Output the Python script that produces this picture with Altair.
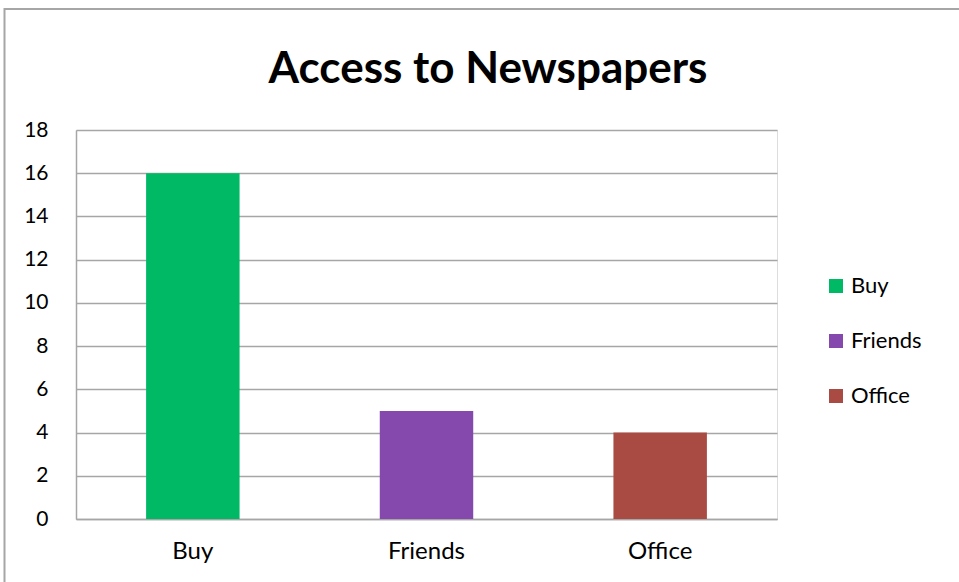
import altair as alt
import pandas as pd

title_text = "Access to Newspapers"
categories = ["Buy", "Friends", "Office"]
values = [16, 5, 4]
colors = ["#00B964", "#8549AD", "#A94B43"]
y_ticks = [0, 2, 4, 6, 8, 10, 12, 14, 16, 18]

df = pd.DataFrame({"source": categories, "count": values})

FONT = "Lato"
GRAY = "#A6A6A6"

bars = alt.Chart(df).mark_bar().encode(
    x=alt.X("source:N", sort=categories,
            scale=alt.Scale(paddingInner=0.6, paddingOuter=0.3),
            axis=alt.Axis(title=None, labelAngle=0, labelFontSize=24, labelFont=FONT,
                          labelColor="#000000", labelPadding=20, ticks=False,
                          domainColor=GRAY, domainWidth=1.5, grid=False)),
    y=alt.Y("count:Q", scale=alt.Scale(domain=[0, 18], nice=False),
            axis=alt.Axis(title=None, values=y_ticks, labelFontSize=21, labelFont=FONT,
                          labelColor="#000000", labelPadding=28, ticks=False,
                          domainColor=GRAY, domainWidth=1.5,
                          gridColor=GRAY, gridWidth=1.5)),
    color=alt.Color("source:N", sort=categories,
                    scale=alt.Scale(domain=categories, range=colors),
                    legend=alt.Legend(title=None, orient="none", legendX=749, legendY=145,
                                      symbolType="square", symbolSize=196,
                                      symbolStrokeWidth=0, labelFontSize=22, labelFont=FONT,
                                      labelColor="#000000", rowPadding=33, labelOffset=4)),
)

single = pd.DataFrame({"t": [title_text]})
title = alt.Chart(single).mark_text(
    font=FONT, fontSize=44, fontWeight="bold", color="#000000",
    align="center", baseline="alphabetic", clip=False,
).encode(text="t:N", x=alt.value(412), y=alt.value(-47))

top_border = alt.Chart(single).mark_rule(color=GRAY, strokeWidth=2, clip=False).encode(
    x=alt.value(-72), x2=alt.value(900), y=alt.value(-121))
left_border = alt.Chart(single).mark_rule(color=GRAY, strokeWidth=2, clip=False).encode(
    x=alt.value(-71.5), y=alt.value(-122), y2=alt.value(460))

chart = alt.layer(bars, title, top_border, left_border).properties(
    width=701, height=389,
    padding={"left": 76, "top": 130, "right": 182, "bottom": 63},
    autosize=alt.AutoSizeParams(type="none"),
).configure_view(strokeWidth=0, stroke="transparent").configure(background="white")

chart.save("out.html", embed_options={"renderer": "svg", "actions": False})
